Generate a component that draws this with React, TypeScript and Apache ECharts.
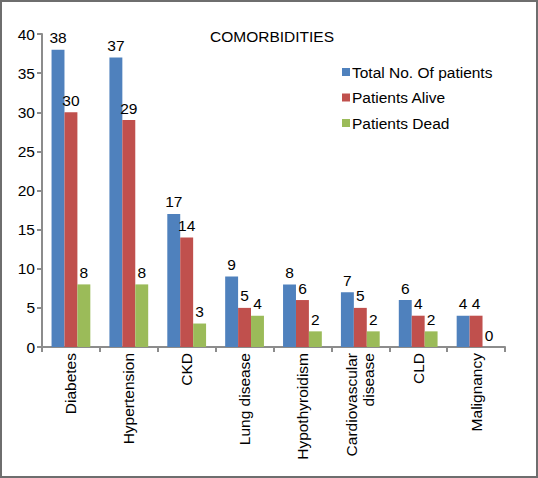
import React, { useEffect, useRef } from "react";
import * as echarts from "echarts";

const categories = [
  "Diabetes",
  "Hypertension",
  "CKD",
  "Lung disease",
  "Hypothyroidism",
  "Cardiovascular\ndisease",
  "CLD",
  "Malignancy",
];
const totalPatients = [38, 37, 17, 9, 8, 7, 6, 4];
const patientsAlive = [30, 29, 14, 5, 6, 5, 4, 4];
const patientsDead = [8, 8, 3, 4, 2, 2, 2, 0];
const seriesNames = ["Total No. Of patients", "Patients Alive", "Patients Dead"];
const colors = ["#4F81BD", "#C0504D", "#9BBB59"];

const FONT = "'Liberation Sans', Arial, sans-serif";

export default function App() {
  const ref = useRef<HTMLDivElement>(null);
  useEffect(() => {
    if (!ref.current) return;
    const chart = echarts.init(ref.current, null, { renderer: "svg" });
    const label = {
      show: true,
      position: "top" as const,
      distance: 4,
      color: "#000",
      fontSize: 15.5,
      fontFamily: FONT,
    };
    const data = [totalPatients, patientsAlive, patientsDead];
    chart.setOption({
      animation: false,
      backgroundColor: "#fff",
      textStyle: { fontFamily: FONT },
      title: {
        text: "COMORBIDITIES",
        left: 205,
        top: 23.5,
        textStyle: { fontSize: 15.5, fontWeight: "normal", color: "#000", fontFamily: FONT },
      },
      legend: {
        orient: "vertical",
        left: 337,
        top: 58,
        itemWidth: 8,
        itemHeight: 8,
        itemGap: 7.5,
        icon: "rect",
        textStyle: {
          fontSize: 15.5,
          lineHeight: 18,
          color: "#000",
          fontFamily: FONT,
          padding: [0, 0, 0, -3],
        },
        data: seriesNames,
      },
      grid: { left: 42, right: 33, top: 34, bottom: 131, containLabel: false },
      xAxis: {
        type: "category",
        data: categories,
        axisLine: { lineStyle: { color: "#8c8c8c", width: 2 } },
        axisTick: { show: true, length: 5, lineStyle: { color: "#8c8c8c", width: 2 } },
        axisLabel: {
          rotate: 90,
          interval: 0,
          fontSize: 15.5,
          color: "#000",
          fontFamily: FONT,
          margin: 6,
          lineHeight: 17,
        },
      },
      yAxis: {
        type: "value",
        min: 0,
        max: 40,
        interval: 5,
        axisLine: { show: true, lineStyle: { color: "#8c8c8c", width: 2 } },
        axisTick: { show: true, length: 5, lineStyle: { color: "#8c8c8c", width: 2 } },
        splitLine: { show: false },
        axisLabel: { fontSize: 15.5, color: "#000", fontFamily: FONT, margin: 7 },
      },
      series: seriesNames.map((name, i) => ({
        name,
        type: "bar",
        data: data[i],
        barGap: "0%",
        barCategoryGap: "33%",
        itemStyle: { color: colors[i] },
        label,
      })),
      graphic: [
        {
          type: "rect",
          shape: { x: 1, y: 1, width: 536, height: 476 },
          style: { fill: "none", stroke: "#6e6e6e", lineWidth: 2 },
          silent: true,
        },
      ],
    });
    return () => chart.dispose();
  }, []);
  return (
    <div
      ref={ref}
      style={{ position: "fixed", left: 0, top: 0, width: 538, height: 478 }}
    />
  );
}
